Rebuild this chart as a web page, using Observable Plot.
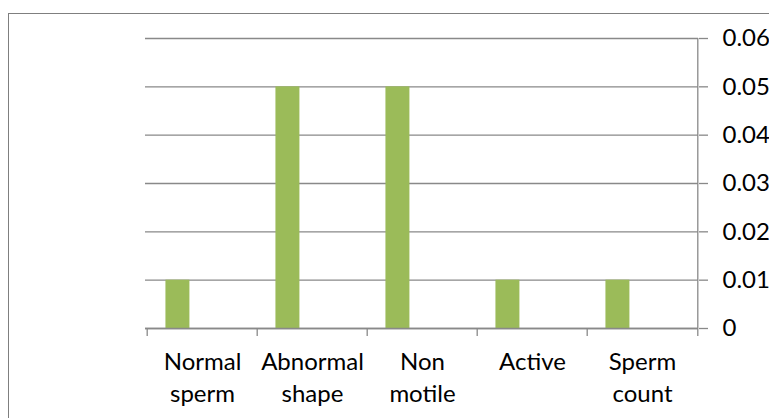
<!DOCTYPE html>
<html>
<head>
<meta charset="utf-8">
<script src="https://cdn.jsdelivr.net/npm/d3@7"></script>
<script src="https://cdn.jsdelivr.net/npm/@observablehq/plot@0.6"></script>
<style>
  html, body { margin: 0; padding: 0; overflow: hidden; background: #fff; }
  #wrap { position: relative; width: 769px; height: 418px; }
  #border { position: absolute; left: 8px; top: 13px; width: 820px; height: 480px; border: 1px solid #7f7f7f; box-sizing: border-box; pointer-events: none; }
  #chart { position: absolute; left: 0; top: 0; }
</style>
</head>
<body>
<div id="wrap"><div id="chart"></div><div id="border"></div></div>
<script>
const categories = ["Normal sperm", "Abnormal shape", "Non motile", "Active", "Sperm count"];
const values = [0.01, 0.05, 0.05, 0.01, 0.01];
const yTicks = [0, 0.01, 0.02, 0.03, 0.04, 0.05, 0.06];
const yTickLabels = ["0", "0.01", "0.02", "0.03", "0.04", "0.05", "0.06"];

const W = 769, H = 418, mL = 145, mR = 71, mT = 38, mB = 90;
const bw = (W - mL - mR) / categories.length;
const barW = bw / 4.5;          // 3 series slots + 150% gap
const insetL = barW * 0.75;
const insetR = bw - insetL - barW;
const gray = "#898989";
const font = "Lato, Carlito, Calibri, sans-serif";
const fs = 24;

const rows = categories.map((c, i) => ({category: c, value: values[i]}));

const chart = Plot.plot({
  width: W, height: H,
  marginLeft: mL, marginRight: mR, marginTop: mT, marginBottom: mB,
  style: {fontFamily: font, fontSize: fs + "px", color: "#000", background: "transparent", overflow: "visible"},
  x: {type: "band", domain: categories, padding: 0, axis: null},
  y: {domain: [0, 0.06], axis: null},
  marks: [
    Plot.gridY(yTicks, {stroke: gray, strokeOpacity: 1, strokeWidth: 1.3}),
    Plot.barY(rows, {x: "category", y: "value", fill: "#9BBB59", insetLeft: insetL, insetRight: insetR}),
    Plot.ruleY([0], {stroke: gray, strokeWidth: 1.3}),
    Plot.ruleX(categories, {x: d => d, y1: 0, y2: 0, dx: -bw / 2, insetBottom: -8, stroke: gray, strokeWidth: 1.3}),
    Plot.ruleX([categories[categories.length - 1]], {x: d => d, y1: 0.06, y2: 0, dx: bw / 2, insetBottom: -8, stroke: gray, strokeWidth: 1.3}),
    Plot.axisY(yTicks, {anchor: "right", label: null, tickSize: 9, tickPadding: 15, stroke: gray, strokeWidth: 1.3, fill: "#000",
      tickFormat: d => yTickLabels[yTicks.indexOf(d)], fontSize: fs}),
    Plot.axisX(categories, {anchor: "bottom", label: null, tickSize: 0, tickPadding: 19, fill: "#000", fontSize: fs,
      lineHeight: 1.33, tickFormat: d => d.replace(" ", "\n")})
  ]
});
document.getElementById("chart").appendChild(chart);
</script>
</body>
</html>
